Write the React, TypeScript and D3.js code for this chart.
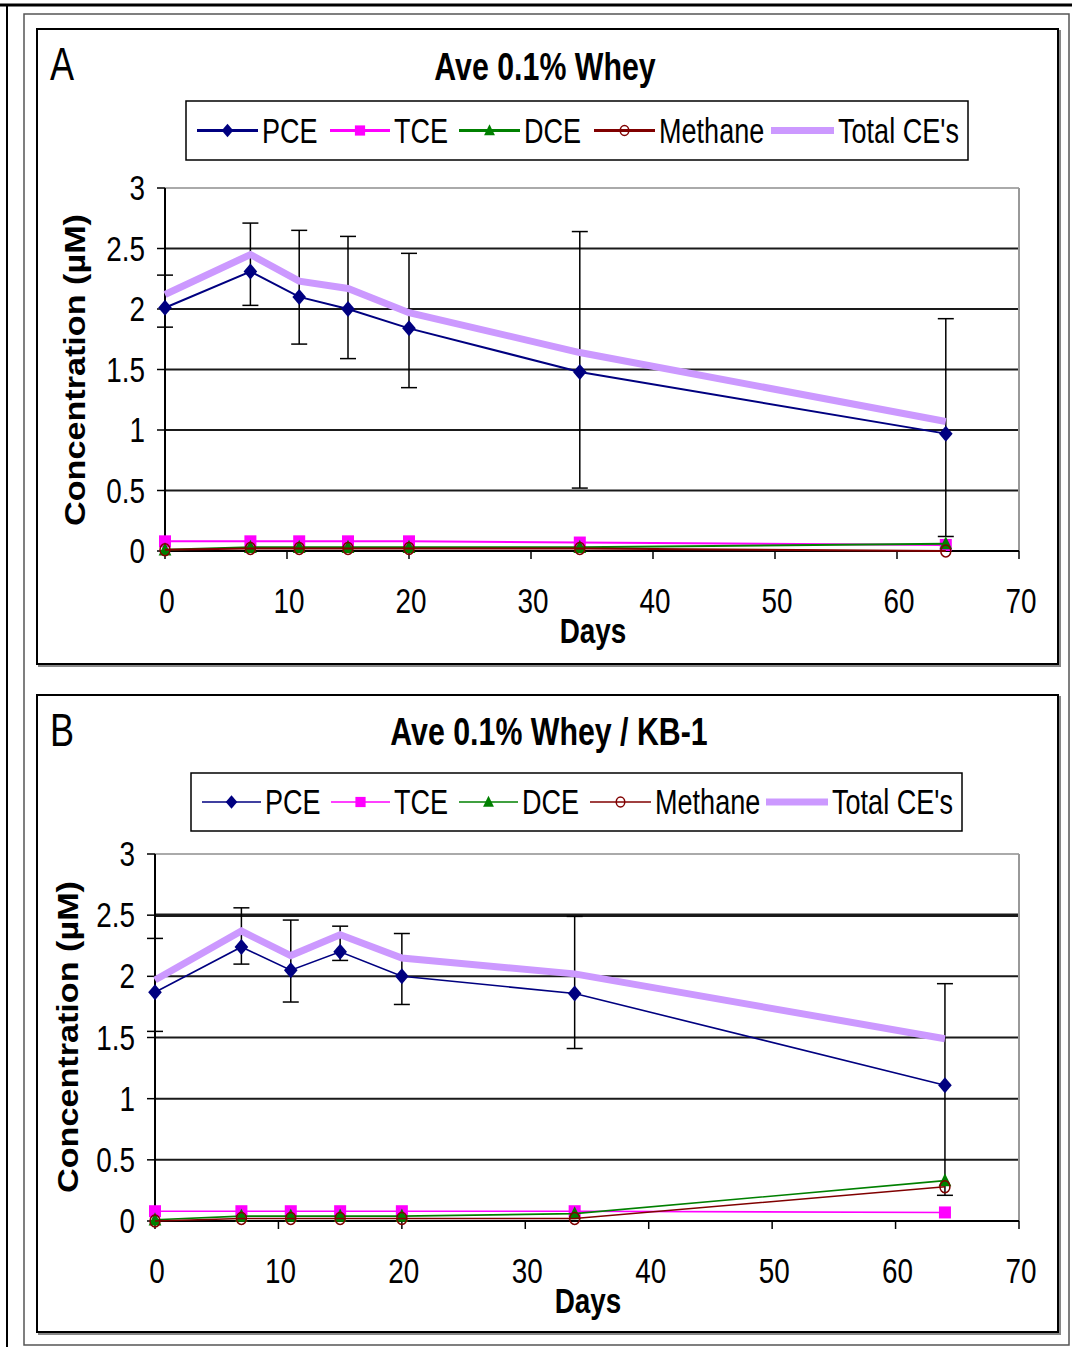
import React from "react";
import * as d3 from "d3";

// ---------- DATA ----------
const days = [0, 7, 11, 15, 20, 34, 64];
const xTicks = [0, 10, 20, 30, 40, 50, 60, 70];
const yTicks = [0, 0.5, 1, 1.5, 2, 2.5, 3];
const yTickLabels = ["0", "0.5", "1", "1.5", "2", "2.5", "3"];

const seriesNames = ["PCE", "TCE", "DCE", "Methane", "Total CE's"];

// Panel A: Ave 0.1% Whey
const pceA = [2.01, 2.31, 2.1, 2.0, 1.84, 1.48, 0.97];
const tceA = [0.08, 0.08, 0.08, 0.08, 0.08, 0.07, 0.05];
const dceA = [0.01, 0.03, 0.03, 0.03, 0.03, 0.03, 0.06];
const methA = [0.01, 0.02, 0.02, 0.02, 0.02, 0.02, 0.0];
const totalA = [2.12, 2.45, 2.23, 2.17, 1.97, 1.64, 1.07];
const errHiA = [2.28, 2.71, 2.65, 2.6, 2.46, 2.64, 1.92];
const errLoA = [1.85, 2.03, 1.71, 1.59, 1.35, 0.52, 0.12];

// Panel B: Ave 0.1% Whey / KB-1
const pceB = [1.87, 2.24, 2.05, 2.2, 2.0, 1.86, 1.11];
const tceB = [0.08, 0.08, 0.08, 0.08, 0.08, 0.08, 0.07];
const dceB = [0.01, 0.04, 0.04, 0.04, 0.04, 0.06, 0.33];
const methB = [0.0, 0.02, 0.02, 0.02, 0.02, 0.02, 0.28];
const totalB = [1.97, 2.37, 2.17, 2.34, 2.15, 2.02, 1.49];
const errHiB = [2.31, 2.56, 2.46, 2.41, 2.35, 2.49, 1.94];
const errLoB = [1.55, 2.1, 1.79, 2.13, 1.77, 1.41, 0.21];

// ---------- STYLE ----------
const colors = ["#000080", "#FF00FF", "#008000", "#800000", "#CC99FF"];
const SANS = "'Liberation Sans', Arial, sans-serif";
const NARROW_SX = 0.82;

function NText({
  x,
  y,
  size,
  bold,
  anchor = "start",
  children,
}: {
  x: number;
  y: number;
  size: number;
  bold?: boolean;
  anchor?: "start" | "middle" | "end";
  children: React.ReactNode;
}) {
  return (
    <text
      transform={`translate(${x},${y}) scale(${NARROW_SX},1.05)`}
      textAnchor={anchor}
      fontFamily={SANS}
      fontSize={size}
      fontWeight={bold ? "bold" : "normal"}
      fill="#000"
    >
      {children}
    </text>
  );
}

type PanelCfg = {
  letter: string;
  title: string;
  box: [number, number, number, number];
  plot: { x0: number; x1: number; yTop: number; yBot: number };
  titleY: number;
  titleX: number;
  legendBox: [number, number, number, number];
  legendItems: number[];
  legendText: number[];
  legendLineW: number;
  lineW: number;
  ylabel: [number, number];
  daysX: number;
  boldGrid: number | null;
  data: number[][];
  errHi: number[];
  errLo: number[];
};

const panels: PanelCfg[] = [
  {
    letter: "A",
    title: "Ave 0.1% Whey",
    box: [37, 29, 1058, 664],
    plot: { x0: 165, x1: 1019, yTop: 188, yBot: 551 },
    titleY: 80,
    titleX: 545,
    legendBox: [186, 101, 968, 160],
    legendItems: [197, 330, 459, 594, 771],
    legendText: [262, 394, 524, 659, 838],
    legendLineW: 3,
    lineW: 2,
    ylabel: [75, 370],
    daysX: 593,
    boldGrid: null,
    data: [pceA, tceA, dceA, methA, totalA],
    errHi: errHiA,
    errLo: errLoA,
  },
  {
    letter: "B",
    title: "Ave 0.1% Whey / KB-1",
    box: [37, 695, 1058, 1332],
    plot: { x0: 155, x1: 1019, yTop: 854, yBot: 1221 },
    titleY: 745,
    titleX: 549,
    legendBox: [191, 773, 962, 831],
    legendItems: [202, 331, 459, 590, 766],
    legendText: [265, 394, 522, 655, 832],
    legendLineW: 1.6,
    lineW: 1.6,
    ylabel: [68, 1037],
    daysX: 588,
    boldGrid: 2.5,
    data: [pceB, tceB, dceB, methB, totalB],
    errHi: errHiB,
    errLo: errLoB,
  },
];

function Marker({ i, x, y, s = 1 }: { i: number; x: number; y: number; s?: number }) {
  const c = colors[i];
  if (i === 0) {
    const r = 8 * s;
    return <path d={`M${x},${y - r}L${x + r * 0.85},${y}L${x},${y + r}L${x - r * 0.85},${y}Z`} fill={c} />;
  }
  if (i === 1) {
    const r = 6 * s;
    return <rect x={x - r} y={y - r} width={2 * r} height={2 * r} fill={c} />;
  }
  if (i === 2) {
    const r = 7.5 * s;
    return <path d={`M${x},${y - r}L${x + r * 0.85},${y + r * 0.75}L${x - r * 0.85},${y + r * 0.75}Z`} fill={c} />;
  }
  if (i === 3) {
    return <ellipse cx={x} cy={y} rx={5 * s} ry={6 * s} fill="none" stroke={c} strokeWidth={1.5} />;
  }
  return null;
}

function Panel({ p }: { p: PanelCfg }) {
  const x = d3.scaleLinear().domain([0, 70]).range([p.plot.x0, p.plot.x1]);
  const y = d3.scaleLinear().domain([0, 3]).range([p.plot.yBot, p.plot.yTop]);
  const line = d3
    .line<number>()
    .x((_, k) => x(days[k]))
    .y((v) => y(v));
  const [bx0, by0, bx1, by1] = p.box;
  const [lx0, ly0, lx1, ly1] = p.legendBox;
  const ly = (ly0 + ly1) / 2;
  return (
    <g>
      <rect x={bx0 + 2} y={by0 + 2} width={bx1 - bx0} height={by1 - by0} fill="none" stroke="#888" strokeWidth={2} />
      <rect x={bx0} y={by0} width={bx1 - bx0} height={by1 - by0} fill="#fff" stroke="#000" strokeWidth={2} />
      <NText x={50} y={by0 + 51} size={44}>
        {p.letter}
      </NText>
      <NText x={p.titleX} y={p.titleY} size={37} bold anchor="middle">
        {p.title}
      </NText>

      {/* legend */}
      <rect x={lx0} y={ly0} width={lx1 - lx0} height={ly1 - ly0} fill="#fff" stroke="#000" strokeWidth={1.5} />
      {seriesNames.map((name, i) => {
        const sx = p.legendItems[i];
        const ex = p.legendText[i] - 4;
        return (
          <g key={name}>
            <line x1={sx} x2={ex} y1={ly} y2={ly} stroke={colors[i]} strokeWidth={i === 4 ? 7 : p.legendLineW} />
            <Marker i={i} x={(sx + ex) / 2} y={ly} s={0.85} />
            <NText x={p.legendText[i]} y={ly + 12} size={33}>
              {name}
            </NText>
          </g>
        );
      })}

      {/* gridlines */}
      {yTicks.slice(1).map((t) => (
        <line
          key={t}
          x1={p.plot.x0}
          x2={p.plot.x1}
          y1={y(t)}
          y2={y(t)}
          stroke={t === 3 ? "#aaa" : "#1a1a1a"}
          strokeWidth={p.boldGrid === t ? 3.5 : 2}
        />
      ))}
      <line x1={p.plot.x1} x2={p.plot.x1} y1={p.plot.yTop} y2={p.plot.yBot} stroke="#999" strokeWidth={2} />

      {/* y axis */}
      <line x1={p.plot.x0} x2={p.plot.x0} y1={p.plot.yTop} y2={p.plot.yBot} stroke="#000" strokeWidth={2} />
      {yTicks.map((t, k) => (
        <g key={t}>
          <line x1={p.plot.x0 - 8} x2={p.plot.x0} y1={y(t)} y2={y(t)} stroke="#000" strokeWidth={1.5} />
          <NText x={p.plot.x0 - 20} y={y(t) + 12} size={34} anchor="end">
            {yTickLabels[k]}
          </NText>
        </g>
      ))}
      {/* x axis */}
      <line x1={p.plot.x0} x2={p.plot.x1} y1={p.plot.yBot} y2={p.plot.yBot} stroke="#000" strokeWidth={2} />
      {xTicks.map((t) => (
        <g key={t}>
          <line x1={x(t)} x2={x(t)} y1={p.plot.yBot} y2={p.plot.yBot + 8} stroke="#000" strokeWidth={1.5} />
          <NText x={x(t) + 2} y={p.plot.yBot + 62} size={34} anchor="middle">
            {t}
          </NText>
        </g>
      ))}
      <NText x={p.daysX} y={p.plot.yBot + 92} size={34} bold anchor="middle">
        Days
      </NText>
      <text
        transform={`translate(${p.ylabel[0]},${p.ylabel[1]}) rotate(-90)`}
        x={0}
        y={10}
        textAnchor="middle"
        fontFamily={SANS}
        fontWeight="bold"
        fontSize={29}
        textLength={312}
        lengthAdjust="spacingAndGlyphs"
        fill="#000"
      >
        Concentration (µM)
      </text>

      {/* error bars */}
      {days.map((d, k) => (
        <g key={d} stroke="#000" strokeWidth={1.5}>
          <line x1={x(d)} x2={x(d)} y1={y(p.errHi[k])} y2={y(p.errLo[k])} />
          <line x1={x(d) - 8} x2={x(d) + 8} y1={y(p.errHi[k])} y2={y(p.errHi[k])} />
          <line x1={x(d) - 8} x2={x(d) + 8} y1={y(p.errLo[k])} y2={y(p.errLo[k])} />
        </g>
      ))}

      {/* series */}
      {p.data.map((vals, i) => (
        <g key={i}>
          <path d={line(vals) || ""} fill="none" stroke={colors[i]} strokeWidth={i === 4 ? 7 : p.lineW} />
          {vals.map((v, k) => (
            <Marker key={k} i={i} x={x(days[k])} y={y(v)} />
          ))}
        </g>
      ))}
    </g>
  );
}

export default function App() {
  return (
    <svg width={1072} height={1347} style={{ position: "absolute", left: 0, top: 0, background: "#fff" }}>
      <rect x={0} y={0} width={1072} height={1347} fill="#fff" />
      <line x1={0} x2={1072} y1={5} y2={5} stroke="#000" strokeWidth={3} />
      <line x1={7} x2={7} y1={4} y2={1347} stroke="#000" strokeWidth={2} />
      <rect x={24} y={14} width={1045} height={1331} fill="none" stroke="#555" strokeWidth={1.5} />
      {panels.map((p) => (
        <Panel key={p.letter} p={p} />
      ))}
    </svg>
  );
}
